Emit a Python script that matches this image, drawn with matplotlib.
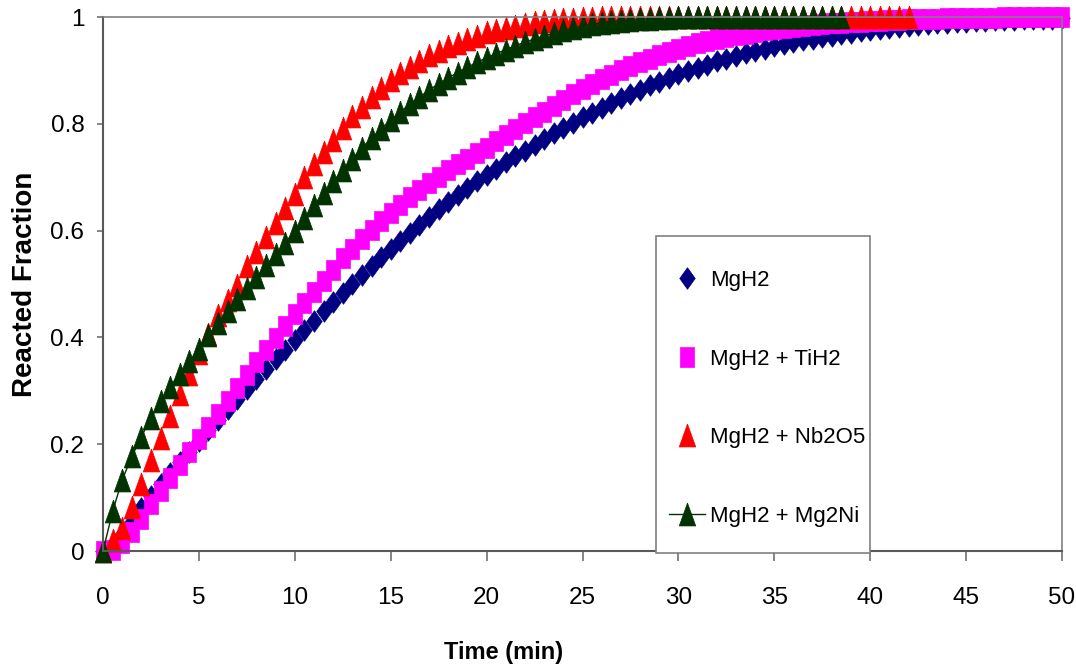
import numpy as np
import matplotlib.pyplot as plt
from matplotlib.patches import Rectangle

plt.rcParams['font.family'] = ['Liberation Sans', 'DejaVu Sans']

# readings every 0.5 min
time = np.arange(0, 50.5, 0.5)

mgh2 = [0.000, 0.010, 0.030, 0.055, 0.080, 0.103, 0.125, 0.146, 0.166, 0.186,
        0.206, 0.226, 0.246, 0.265, 0.284, 0.303, 0.322, 0.341, 0.359, 0.377,
        0.395, 0.413, 0.431, 0.449, 0.466, 0.483, 0.500, 0.517, 0.534, 0.550,
        0.566, 0.581, 0.596, 0.611, 0.626, 0.640, 0.654, 0.667, 0.680, 0.692,
        0.704, 0.716, 0.728, 0.739, 0.750, 0.761, 0.772, 0.782, 0.792, 0.802,
        0.812, 0.821, 0.830, 0.839, 0.848, 0.856, 0.864, 0.872, 0.879, 0.886,
        0.893, 0.899, 0.905, 0.911, 0.917, 0.922, 0.927, 0.932, 0.937, 0.941,
        0.945, 0.949, 0.953, 0.956, 0.959, 0.962, 0.965, 0.968, 0.970, 0.973,
        0.975, 0.977, 0.979, 0.981, 0.983, 0.985, 0.986, 0.988, 0.989, 0.990,
        0.991, 0.992, 0.993, 0.994, 0.995, 0.995, 0.996, 0.996, 0.997, 0.997,
        0.998]

mgh2_tih2 = [0.000, 0.002, 0.015, 0.035, 0.060, 0.088, 0.113, 0.137, 0.161, 0.185,
             0.209, 0.233, 0.257, 0.281, 0.305, 0.329, 0.353, 0.376, 0.399, 0.422,
             0.443, 0.464, 0.485, 0.505, 0.527, 0.548, 0.566, 0.584, 0.602, 0.618,
             0.633, 0.648, 0.662, 0.676, 0.689, 0.701, 0.713, 0.724, 0.735, 0.745,
             0.755, 0.767, 0.779, 0.790, 0.801, 0.812, 0.823, 0.834, 0.845, 0.855,
             0.866, 0.875, 0.884, 0.892, 0.900, 0.908, 0.915, 0.922, 0.929, 0.935,
             0.941, 0.946, 0.951, 0.955, 0.959, 0.963, 0.966, 0.969, 0.972, 0.975,
             0.977, 0.979, 0.981, 0.983, 0.985, 0.986, 0.988, 0.989, 0.990, 0.991,
             0.992, 0.993, 0.994, 0.995, 0.996, 0.996, 0.997, 0.997, 0.998, 0.998,
             0.999, 0.999, 0.999, 0.999, 1.000, 1.000, 1.000, 1.000, 1.000, 1.000,
             1.000]

mgh2_nb2o5 = [0.000, 0.020, 0.043, 0.082, 0.125, 0.170, 0.212, 0.253, 0.294, 0.332,
              0.370, 0.406, 0.442, 0.470, 0.498, 0.533, 0.560, 0.588, 0.615, 0.642,
              0.668, 0.700, 0.725, 0.748, 0.770, 0.792, 0.814, 0.832, 0.850, 0.867,
              0.882, 0.895, 0.907, 0.918, 0.928, 0.937, 0.945, 0.952, 0.959, 0.965,
              0.971, 0.976, 0.980, 0.984, 0.987, 0.990, 0.992, 0.994, 0.996, 0.997,
              0.998, 0.999, 1.000, 1.000, 1.000, 1.000, 1.000, 1.000, 1.000, 1.000,
              1.000, 1.000, 1.000, 1.000, 1.000, 1.000, 1.000, 1.000, 1.000, 1.000,
              1.000, 1.000, 1.000, 1.000, 1.000, 1.000, 1.000, 1.000, 1.000, 1.000,
              1.000, 1.000, 1.000, 1.000, 1.000]

mgh2_mg2ni = [0.000, 0.074, 0.133, 0.177, 0.214, 0.249, 0.280, 0.308, 0.332, 0.355,
              0.379, 0.404, 0.427, 0.450, 0.471, 0.492, 0.513, 0.535, 0.556, 0.577,
              0.600, 0.624, 0.648, 0.670, 0.692, 0.714, 0.735, 0.755, 0.773, 0.791,
              0.807, 0.822, 0.837, 0.850, 0.863, 0.875, 0.886, 0.896, 0.906, 0.915,
              0.924, 0.931, 0.939, 0.946, 0.953, 0.959, 0.965, 0.970, 0.975, 0.979,
              0.983, 0.986, 0.989, 0.991, 0.993, 0.995, 0.996, 0.997, 0.998, 0.999,
              1.000, 1.000, 1.000, 1.000, 1.000, 1.000, 1.000, 1.000, 1.000, 1.000,
              1.000, 1.000, 1.000, 1.000, 1.000, 1.000, 1.000, 1.000]

labels = ['MgH2', 'MgH2 + TiH2', 'MgH2 + Nb2O5', 'MgH2 + Mg2Ni']
colors = ['#000080', '#FF00FF', '#FF0000', '#003300']

# excel style markers (taller than wide)
diamond = [(0, 1), (0.72, 0), (0, -1), (-0.72, 0), (0, 1)]
square = [(-0.65, -1), (0.65, -1), (0.65, 1), (-0.65, 1), (-0.65, -1)]
triangle = [(0, 1), (0.72, -1), (-0.72, -1), (0, 1)]

fig = plt.figure(figsize=(10.76, 6.7), dpi=100)
ax = fig.add_axes([103 / 1076, 1 - 551 / 670, 959 / 1076, 534 / 670])

series = [mgh2, mgh2_tih2, mgh2_nb2o5, mgh2_mg2ni]
markers = [diamond, square, triangle, triangle]
sizes = [15.5, 15.0, 16.5, 16.5]
handles = []
for vals, lab, c, m, ms in zip(series, labels, colors, markers, sizes):
    ls = '-' if lab == 'MgH2 + Mg2Ni' else 'none'
    h, = ax.plot(time[:len(vals)], vals, linestyle=ls, lw=1, color=c,
                 marker=m, ms=ms, mfc=c, mec=c, mew=0.5, clip_on=False, label=lab)
    handles.append(h)

ax.set_xlim(0, 50)
ax.set_ylim(0, 1)
ax.set_xticks(np.arange(0, 51, 5))
ax.set_yticks([0, 0.2, 0.4, 0.6, 0.8, 1])
ax.set_yticklabels(['0', '0.2', '0.4', '0.6', '0.8', '1'])

for s in ['left', 'bottom']:
    ax.spines[s].set_color('#595959')
    ax.spines[s].set_linewidth(1.5)
for s in ['top', 'right']:
    ax.spines[s].set_color('#808080')
    ax.spines[s].set_linewidth(1.2)

ax.tick_params(axis='x', direction='out', length=7, width=1.2, color='#707070',
               labelsize=17.5, pad=19)
ax.tick_params(axis='y', direction='out', length=4.5, width=1.2, color='#707070',
               labelsize=17.5, pad=9)

ax.set_xlabel('Time (min)', fontsize=17, fontweight='bold')
ax.xaxis.set_label_coords(0.4176, -0.168)
ax.set_ylabel('Reacted Fraction', fontsize=20, fontweight='bold')
ax.yaxis.set_label_coords(-0.068, 0.5)

# legend box
box = Rectangle((656 / 1076, 1 - 553 / 670), 214 / 1076, 317 / 670,
                transform=fig.transFigure, facecolor='white', edgecolor='#808080',
                lw=1.2, zorder=3)
fig.add_artist(box)
leg = fig.legend(handles, labels, loc='upper left',
                 bbox_to_anchor=(669 / 1076, 1 - 270 / 670), frameon=False,
                 borderpad=0, borderaxespad=0, handlelength=1.62,
                 handletextpad=0.23, labelspacing=2.59, fontsize=16)
leg.set_zorder(5)

fig.savefig('out.png', dpi=100)
